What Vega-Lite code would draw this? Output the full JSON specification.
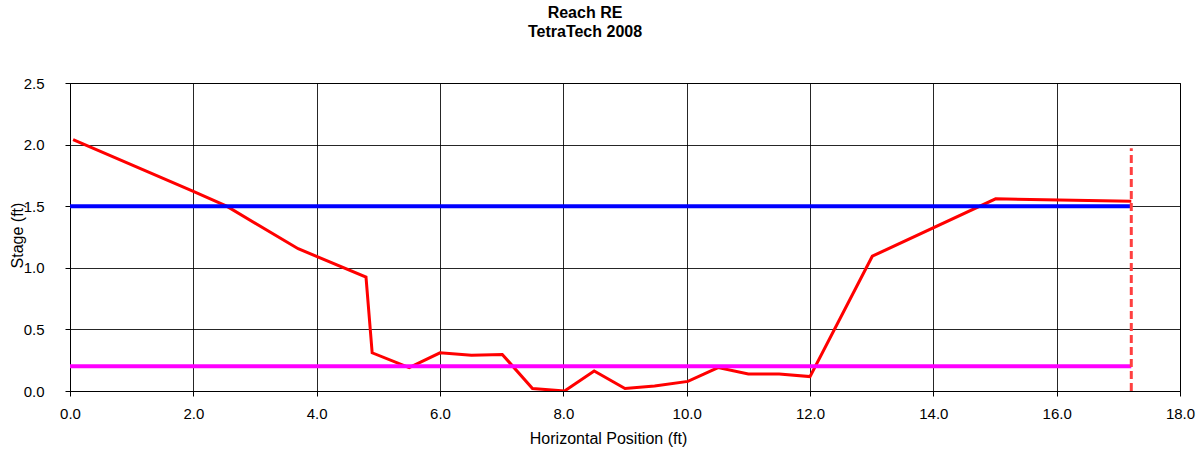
{
  "$schema": "https://vega.github.io/schema/vega-lite/v6.json",
  "autosize": {"type": "none"},
  "width": 1110,
  "height": 308,
  "padding": {"left": 70, "top": 83, "right": 19, "bottom": 63},
  "background": "white",
  "config": {
    "font": "Liberation Sans",
    "view": {"stroke": "black", "strokeWidth": 1},
    "axis": {
      "labelFont": "Liberation Sans",
      "labelFontSize": 15,
      "labelColor": "black",
      "labelFlush": false,
      "titleFont": "Liberation Sans",
      "titleFontSize": 16,
      "titleFontWeight": "normal",
      "titleColor": "black",
      "gridColor": "black",
      "gridOpacity": 0.85,
      "gridWidth": 1,
      "domainColor": "black",
      "tickColor": "black",
      "tickSize": 5
    }
  },
  "title": {
    "text": ["Reach RE", "TetraTech 2008"],
    "font": "Liberation Sans",
    "fontSize": 16,
    "fontWeight": "bold",
    "color": "black",
    "anchor": "middle",
    "lineHeight": 19,
    "dx": -40,
    "offset": 36
  },
  "datasets": {
    "profile": [
      {"x": 0.05, "y": 2.04},
      {"x": 2.0, "y": 1.62},
      {"x": 2.54, "y": 1.5},
      {"x": 3.7, "y": 1.155},
      {"x": 4.8, "y": 0.925},
      {"x": 4.9, "y": 0.31},
      {"x": 5.5, "y": 0.19},
      {"x": 6.0, "y": 0.31},
      {"x": 6.51, "y": 0.29},
      {"x": 7.01, "y": 0.297},
      {"x": 7.5, "y": 0.02},
      {"x": 8.02, "y": 0.0},
      {"x": 8.5, "y": 0.162},
      {"x": 9.0, "y": 0.02},
      {"x": 9.48, "y": 0.04},
      {"x": 10.02, "y": 0.078},
      {"x": 10.51, "y": 0.19},
      {"x": 11.0, "y": 0.138},
      {"x": 11.5, "y": 0.138},
      {"x": 12.0, "y": 0.117},
      {"x": 13.01, "y": 1.094},
      {"x": 15.01, "y": 1.56},
      {"x": 17.21, "y": 1.54}
    ],
    "levels": [
      {"series": "upper", "x": 0.0, "y": 1.5},
      {"series": "upper", "x": 17.21, "y": 1.5},
      {"series": "lower", "x": 0.0, "y": 0.2},
      {"series": "lower", "x": 17.21, "y": 0.2}
    ],
    "edge": [
      {"x": 17.21, "y": 0.0, "y2": 1.97}
    ]
  },
  "layer": [
    {
      "data": {"name": "profile"},
      "mark": {"type": "line", "color": "#ff0000", "strokeWidth": 3, "clip": true},
      "encoding": {
        "x": {
          "field": "x", "type": "quantitative",
          "scale": {"domain": [0, 18], "nice": false, "zero": false},
          "axis": {
            "title": "Horizontal Position (ft)",
            "values": [0, 2, 4, 6, 8, 10, 12, 14, 16, 18],
            "format": ".1f",
            "labelPadding": 10,
            "titlePadding": 9,
            "titleX": 538,
            "grid": true
          }
        },
        "y": {
          "field": "y", "type": "quantitative",
          "scale": {"domain": [0, 2.5], "nice": false},
          "axis": {
            "title": "Stage (ft)",
            "values": [0, 0.5, 1, 1.5, 2, 2.5],
            "format": ".1f",
            "labelPadding": 21,
            "titleX": -48,
            "titleY": 152,
            "titleAngle": -90,
            "titleBaseline": "alphabetic",
            "grid": true
          }
        }
      }
    },
    {
      "data": {"name": "levels"},
      "mark": {"type": "line", "strokeWidth": 4},
      "encoding": {
        "x": {"field": "x", "type": "quantitative"},
        "y": {"field": "y", "type": "quantitative"},
        "detail": {"field": "series"},
        "color": {
          "field": "series", "type": "nominal",
          "scale": {"domain": ["upper", "lower"], "range": ["#0000ff", "#ff00ff"]},
          "legend": null
        }
      }
    },
    {
      "data": {"name": "edge"},
      "mark": {"type": "rule", "color": "#ff4040", "strokeWidth": 3, "strokeDash": [8, 4]},
      "encoding": {
        "x": {"field": "x", "type": "quantitative"},
        "y": {"field": "y", "type": "quantitative"},
        "y2": {"field": "y2"}
      }
    }
  ]
}
